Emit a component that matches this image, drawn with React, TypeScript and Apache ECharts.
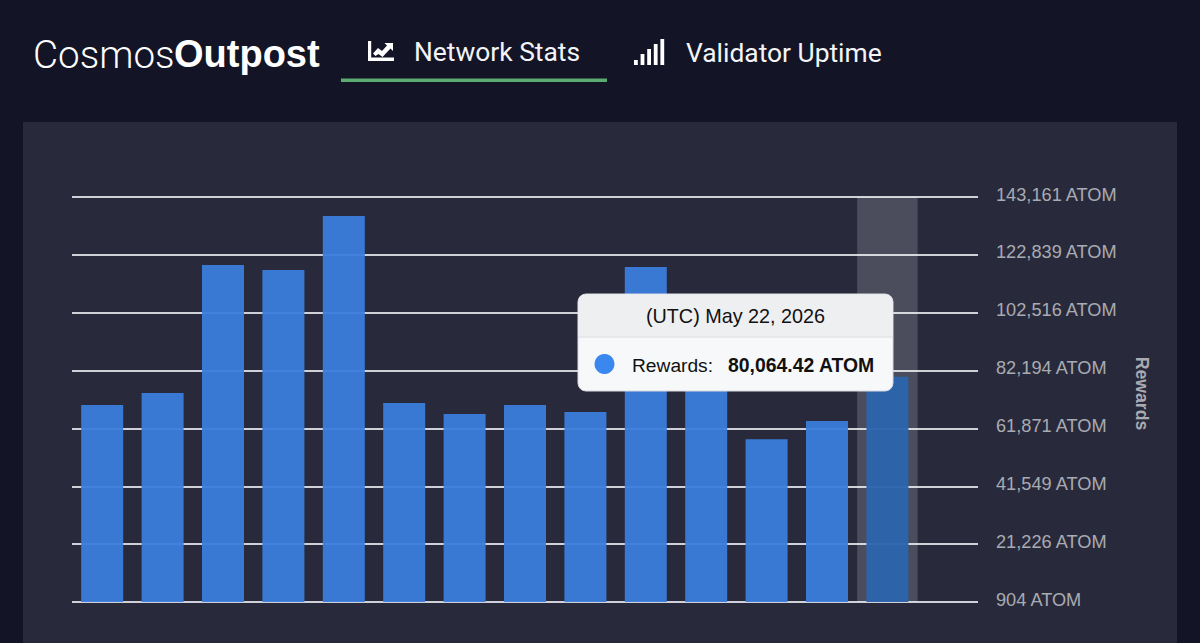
import React, { useEffect, useRef } from "react";
import * as echarts from "echarts";

const categories = [
  "May 9, 2026", "May 10, 2026", "May 11, 2026", "May 12, 2026", "May 13, 2026",
  "May 14, 2026", "May 15, 2026", "May 16, 2026", "May 17, 2026", "May 18, 2026",
  "May 19, 2026", "May 20, 2026", "May 21, 2026", "May 22, 2026", "May 23, 2026",
];
const rewards: (number | null)[] = [
  70100, 74300, 119300, 117500, 136500, 70800, 66900, 70100, 67600, 118600,
  90000, 58100, 64500, 80064.42, null,
];
const tickValues = [904, 21226, 41549, 61871, 82194, 102516, 122839, 143161];
const highlighted = "May 22, 2026";

const FONT = "'Liberation Sans', Arial, sans-serif";
const UI = "Roboto, 'Liberation Sans', sans-serif";

echarts.graphic.registerShape(
  "tabChart",
  echarts.graphic.extendPath(
    "M0 0h3.2v16.5H26V20H0z M5 12.5 10 7l4 3 5-5.5L16.5 2H25v8l-2.5-2.5-8 8.5-4-3L7.500 15z",
    {}
  )
);

export default function App() {
  const ref = useRef<HTMLDivElement>(null);
  useEffect(() => {
    const chart = echarts.init(ref.current!, undefined, { renderer: "svg" });
    const tooltip = { x: 578, y: 294, w: 315, h: 97 };
    const signalBars = [5, 11, 16, 21, 26];
    const top = 100;
    chart.setOption({
      animation: false,
      backgroundColor: "#131527",
      grid: { left: 72, right: 222, top: 197, bottom: 41, containLabel: false },
      xAxis: {
        type: "category",
        data: categories,
        boundaryGap: true,
        axisLine: { show: false },
        axisTick: { show: false },
        axisLabel: { show: false },
        splitLine: { show: false },
        axisPointer: {
          show: true,
          type: "shadow",
          value: highlighted,
          status: "show",
          triggerTooltip: false,
          z: 1,
          label: { show: false },
          shadowStyle: { color: "rgba(255,255,255,0.17)" },
        },
      },
      yAxis: {
        type: "value",
        position: "right",
        min: tickValues[0],
        max: tickValues[tickValues.length - 1],
        axisLine: { show: false },
        axisTick: { show: false, customValues: tickValues },
        splitLine: { show: true, lineStyle: { color: "#cfd0d8", width: 1.8 } },
        axisLabel: {
          customValues: tickValues,
          margin: 18,
          color: "#a9aab2",
          fontFamily: FONT,
          fontSize: 18.2,
          verticalAlign: "bottom",
          lineHeight: 5,
          formatter: (v: number) => `${Math.round(v).toLocaleString("en-US")} ATOM`,
        },
        name: "Rewards",
        nameLocation: "middle",
        nameRotate: -90,
        nameGap: 155,
        nameTextStyle: {
          color: "#a9aab2",
          fontFamily: FONT,
          fontSize: 17.7,
          fontWeight: "bold",
          padding: [0, 12, 0, 0],
        },
      },
      series: [
        {
          name: "Rewards",
          type: "bar",
          z: 5,
          barWidth: 42,
          data: rewards.map((value, i) =>
            categories[i] === highlighted
              ? { value, itemStyle: { color: "#2b64ad", opacity: 0.96 } }
              : value
          ),
          itemStyle: { color: "#3a7ddc", opacity: 0.95 },
        },
      ],
      graphic: [
        { type: "rect", z: -1, shape: { x: 23, y: 122, width: 1154, height: 521 }, style: { fill: "#282a3b" }, silent: true },
        { type: "text", x: 33, y: 54, style: { text: "Cosmos", fill: "#fff", font: `300 38.6px ${UI}`, textVerticalAlign: "middle" } },
        { type: "text", x: 174, y: 54, style: { text: "Outpost", fill: "#fff", font: `bold 38px ${FONT}`, textVerticalAlign: "middle" } },
        { type: "tabChart", x: 368, y: 41, style: { fill: "#fff" } },
        { type: "text", x: 414, y: 52, style: { text: "Network Stats", fill: "#f4f4f7", font: `400 26.4px ${UI}`, textVerticalAlign: "middle" } },
        { type: "rect", shape: { x: 341, y: 78.5, width: 266, height: 3.5 }, style: { fill: "#5cab72" } },
        {
          type: "group",
          children: signalBars.map((h, i) => ({
            type: "rect",
            shape: { x: 634 + i * 6.6, y: 65 - h, width: 3.8, height: h },
            style: { fill: "#fff" },
          })),
        },
        { type: "text", x: 686, y: 53, style: { text: "Validator Uptime", fill: "#f4f4f7", font: `400 26.4px ${UI}`, textVerticalAlign: "middle" } },
        { type: "rect", z: top, shape: { x: tooltip.x, y: tooltip.y, width: tooltip.w, height: tooltip.h, r: 8 }, style: { fill: "#f7f8fa", stroke: "#d9dae0", lineWidth: 1 } },
        { type: "rect", z: top + 1, shape: { x: tooltip.x + 0.5, y: tooltip.y + 0.5, width: tooltip.w - 1, height: 42, r: [8, 8, 0, 0] }, style: { fill: "#eeeff1" } },
        { type: "line", z: top + 1, shape: { x1: tooltip.x, y1: tooltip.y + 43, x2: tooltip.x + tooltip.w, y2: tooltip.y + 43 }, style: { stroke: "#d9dadd", lineWidth: 1 } },
        { type: "text", z: top + 2, x: 735.5, y: 316, style: { text: "(UTC) May 22, 2026", fill: "#111", font: `400 19.8px ${FONT}`, textAlign: "center", textVerticalAlign: "middle" } },
        { type: "circle", z: top + 2, shape: { cx: 604.5, cy: 364, r: 10 }, style: { fill: "#3b87f0" } },
        { type: "text", z: top + 2, x: 632, y: 365, style: { text: "Rewards:", fill: "#111", font: `400 19.2px ${FONT}`, textVerticalAlign: "middle" } },
        { type: "text", z: top + 2, x: 728, y: 365, style: { text: "80,064.42 ATOM", fill: "#111", font: `bold 19.4px ${FONT}`, textVerticalAlign: "middle" } },
      ],
    });
    return () => chart.dispose();
  }, []);
  return <div ref={ref} style={{ position: "fixed", left: 0, top: 0, width: 1200, height: 643 }} />;
}
